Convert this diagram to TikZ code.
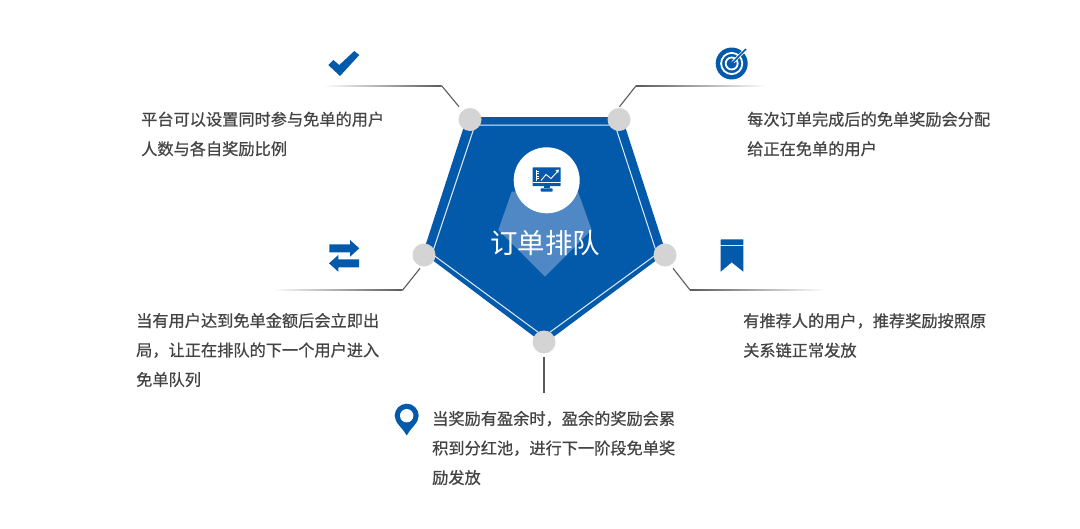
\documentclass[tikz,border=0pt]{standalone}
\usepackage{fontspec}
\newfontfamily\cjk{Noto Sans CJK SC}
\newfontfamily\cjkb[FakeBold=0.6]{Noto Sans CJK SC}
\definecolor{brandblue}{HTML}{045AAA}
\definecolor{paleblue}{HTML}{4F88C4}
\definecolor{dotgray}{HTML}{D4D4D4}
\definecolor{linegray}{HTML}{5A5A5A}
\definecolor{txtgray}{HTML}{444444}
\tikzset{
  dot/.style={circle,fill=dotgray,minimum size=23pt,inner sep=0pt},
  conn/.style={draw=linegray,line width=1.1pt},
  body/.style={font=\cjkb\fontsize{16.2}{29.5}\selectfont,text=txtgray,align=left,anchor=west,inner sep=0pt},
  icon/.style={fill=brandblue,draw=none},
}
\begin{document}
\begin{tikzpicture}[x=1pt,y=-1pt]
\useasboundingbox[fill=white] (0,0) rectangle (1080,528);
% pentagon
\fill[brandblue,line join=round] (467,117) -- (622,117) -- (666,253) -- (544,344) -- (423,253) -- cycle;
\draw[white!88!brandblue,line width=1pt] (475,125) -- (615,125) -- (657,254) -- (544,336.5) -- (432,254) -- cycle;
\fill[paleblue] (511.7,191.7) -- (498.3,230) -- (545,276.7) -- (591.7,230) -- (578,191.7) -- cycle;
\node[circle,fill=white,minimum size=66pt,inner sep=0pt] (hub) at (546.7,180.3) {};
% monitor icon
\fill[icon,rounded corners=0.5pt] (532.7,167.3) rectangle (560.7,186);
\fill[white] (532.7,182.4) rectangle (560.7,183.2);
\draw[white,line width=0.8pt] (536,170) -- (536,181);
\draw[white,line width=0.5pt] (537,171)--(538.5,171) (537,173.5)--(538.5,173.5) (537,176)--(538.5,176) (537,178.5)--(538.5,178.5);
\draw[white,line width=0.9pt] (541,180.5) -- (546,174.5) -- (551,178.5) -- (558,171);
\fill[white] (559,169.5) -- (555.5,170.3) -- (558.2,173) -- cycle;
\fill[icon] (543.5,186) rectangle (550,188.4);
\fill[icon,rounded corners=0.6pt] (540.7,188.4) rectangle (552.7,191.5);
\node[font=\cjk\fontsize{27.5}{30}\selectfont,text=white,inner sep=0pt] (title) at (545,243) {订单排队};
% dots
\node[dot] (dtl) at (470,119.5) {};
\node[dot] (dtr) at (619,119.5) {};
\node[dot] (dr) at (665,255) {};
\node[dot] (dl) at (424,255) {};
\node[dot] (db) at (544,342) {};
% connector coordinates
\coordinate (tlstart) at (459,106.7);
\coordinate (tlelbow) at (441.7,85.8);
\coordinate (tlfade) at (323,85.8);
\coordinate (trstart) at (619.5,106.7);
\coordinate (trelbow) at (636,85.8);
\coordinate (trfade) at (767,85.8);
\coordinate (lstart) at (420,268.3);
\coordinate (lelbow) at (402.7,290);
\coordinate (lfade) at (272,290);
\coordinate (rstart) at (673,268.3);
\coordinate (relbow) at (690,290);
\coordinate (rfade) at (825,290);
\coordinate (bstart) at (544,357);
\coordinate (bend) at (544,392.7);
\draw[conn] (tlstart) -- (tlelbow);
\draw[conn] (trstart) -- (trelbow);
\draw[conn] (lstart) -- (lelbow);
\draw[conn] (rstart) -- (relbow);
\draw[conn] (bstart) -- (bend);
\shade[left color=white,right color=linegray] ([yshift=-0.6pt]tlfade) rectangle ([yshift=0.6pt]tlelbow);
\shade[left color=linegray,right color=white] ([yshift=-0.6pt]trelbow) rectangle ([yshift=0.6pt]trfade);
\shade[left color=white,right color=linegray] ([yshift=-0.6pt]lfade) rectangle ([yshift=0.6pt]lelbow);
\shade[left color=linegray,right color=white] ([yshift=-0.6pt]relbow) rectangle ([yshift=0.6pt]rfade);
% check icon
\fill[icon] (328.3,65) -- (340,76) -- (359.3,55) -- (354.3,51) -- (339.3,65) -- (333.3,60) -- cycle;
% target icon
\fill[icon] (731.7,63.5) circle (16);
\draw[white,line width=1.8pt] (731.7,63.5) circle (10.6);
\draw[white,line width=1.8pt] (731.7,63.5) circle (6);
\draw[white,line width=3.2pt] (731.7,63.5) -- (747,48);
\draw[brandblue,line width=1.6pt] (731.7,63.5) -- (746,49);
\fill[icon] (731.7,63.5) circle (2.2);
% swap arrows icon
\fill[icon,line join=round] (329.3,244.3) -- (350,244.3) -- (350,240) -- (359.3,248.3) -- (350,256.7) -- (350,252.3) -- (329.3,252.3) -- cycle;
\fill[icon] (359,259.3) -- (338.3,259.3) -- (338.3,255) -- (329,263.3) -- (338.3,271.7) -- (338.3,267.3) -- (359,267.3) -- cycle;
% bookmark icon
\fill[icon,rounded corners=0.5pt] (720.7,239.3) rectangle (743.3,245);
\fill[icon] (720.7,246) -- (743.3,246) -- (743.3,271.7) -- (731.7,262.3) -- (720.7,271.7) -- cycle;
% pin icon
\fill[icon] (406.7,435.5) .. controls (402,427) and (394.7,423) .. (394.7,415.7) arc[start angle=180,end angle=360,radius=12] .. controls (418.7,423) and (411.4,427) .. (406.7,435.5) -- cycle;
\fill[white] (406.7,415.7) circle (6.7);
% texts
\node[body] (t1) at (141,134) {平台可以设置同时参与免单的用户\\人数与各自奖励比例};
\node[body] (t2) at (747,134) {每次订单完成后的免单奖励会分配\\给正在免单的用户};
\node[body] (t3) at (136,350) {当有用户达到免单金额后会立即出\\局，让正在排队的下一个用户进入\\免单队列};
\node[body] (t4) at (743,335.5) {有推荐人的用户，推荐奖励按照原\\关系链正常发放};
\node[body] (t5) at (432,448) {当奖励有盈余时，盈余的奖励会累\\积到分红池，进行下一阶段免单奖\\励发放};
\end{tikzpicture}
\end{document}
